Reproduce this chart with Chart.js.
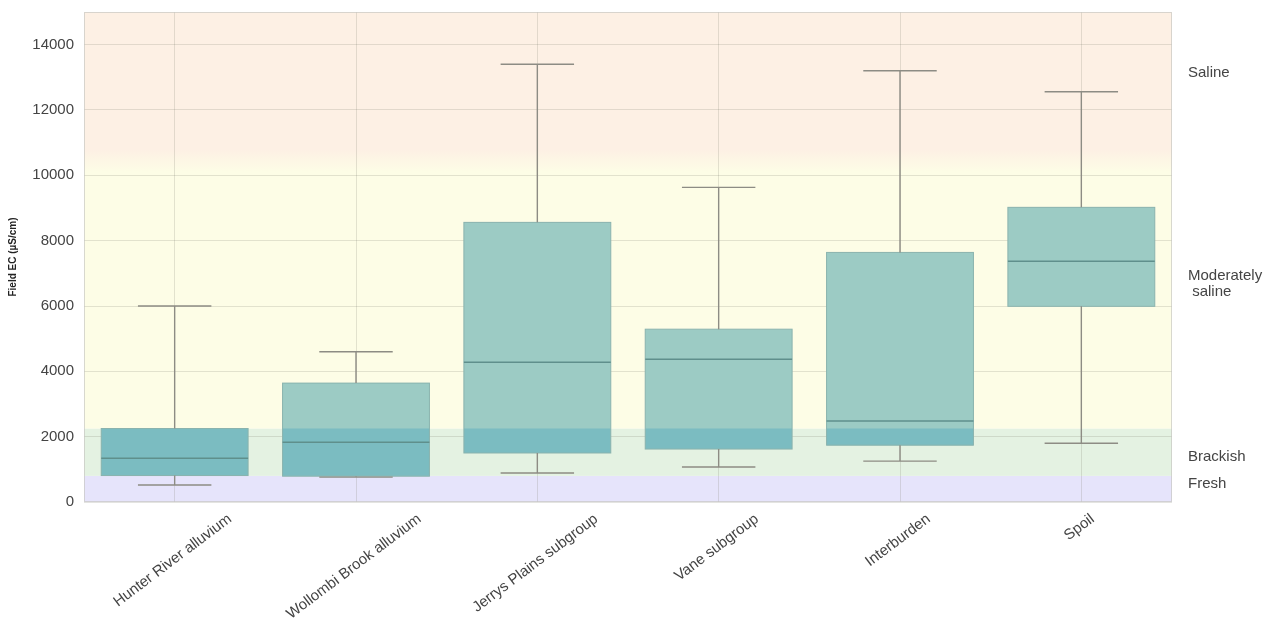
<!DOCTYPE html>
<html>
<head>
<meta charset="utf-8">
<script src="https://cdn.jsdelivr.net/npm/chart.js@4.4.0/dist/chart.umd.min.js"></script>
<style>
  body { margin: 0; background: #fff; }
  #wrap { width: 1284px; height: 628px; }
</style>
</head>
<body>
<div id="wrap"><canvas id="ecChart"></canvas></div>
<script>
// Field EC by unit
const categories = ['Hunter River alluvium', 'Wollombi Brook alluvium', 'Jerrys Plains subgroup', 'Vane subgroup', 'Interburden', 'Spoil'];
const whiskerLow = [520, 760, 890, 1070, 1250, 1800];
const q1 = [810, 790, 1500, 1620, 1740, 5990];
const median = [1340, 1830, 4280, 4370, 2480, 7370];
const q3 = [2250, 3640, 8560, 5290, 7640, 9020];
const whiskerHigh = [6000, 4600, 13400, 9630, 13200, 12560];
const yTicks = [0, 2000, 4000, 6000, 8000, 10000, 12000, 14000];

// salinity classes (limits in uS/cm)
const zoneNames = ['Fresh', 'Brackish', 'Moderately\n saline', 'Saline'];
const zoneLimits = [0, 800, 2250, 10400, 15000];
const zoneLabelAt = [550, 1380, 6670, 13150];
const zoneColors = ['#e6e4fb', '#e4f2e2', '#fdfde6', '#fdf0e4'];

const font = 'Liberation Sans, Arial, sans-serif';
Chart.defaults.font.family = font;

const salinityPlugin = {
  id: 'salinity',
  beforeDraw(chart) {
    const { ctx, chartArea: a, scales: { y } } = chart;
    ctx.save();
    for (let i = 0; i < zoneNames.length; i++) {
      const top = y.getPixelForValue(zoneLimits[i + 1]);
      const bot = y.getPixelForValue(zoneLimits[i]);
      ctx.fillStyle = zoneColors[i];
      ctx.fillRect(a.left, top, a.right - a.left, bot - top);
    }
    // soft blend between moderately saline and saline
    const g0 = y.getPixelForValue(10800), g1 = y.getPixelForValue(10100);
    const grad = ctx.createLinearGradient(0, g0, 0, g1);
    grad.addColorStop(0, zoneColors[3]);
    grad.addColorStop(1, zoneColors[2]);
    ctx.fillStyle = grad;
    ctx.fillRect(a.left, g0, a.right - a.left, g1 - g0);
    ctx.restore();
  },
  afterDatasetsDraw(chart) {
    const { ctx, scales: { y } } = chart;
    const meta = chart.getDatasetMeta(0);
    ctx.save();
    meta.data.forEach((el, i) => {
      const w = el.width, left = el.x - w / 2;
      const yq1 = y.getPixelForValue(q1[i]), yq3 = y.getPixelForValue(q3[i]);
      // darker fill where the box sits in the brackish band
      ctx.save();
      ctx.beginPath();
      ctx.rect(left, yq3, w, yq1 - yq3);
      ctx.clip();
      const bt = y.getPixelForValue(zoneLimits[2]), bb = y.getPixelForValue(zoneLimits[1]);
      ctx.fillStyle = '#7bbcc1';
      ctx.fillRect(left, bt, w, bb - bt);
      ctx.restore();
      ctx.strokeStyle = '#8ab3ae';
      ctx.lineWidth = 1;
      ctx.strokeRect(left, yq3, w, yq1 - yq3);
      // median
      const ym = y.getPixelForValue(median[i]);
      ctx.strokeStyle = '#5f8f8c';
      ctx.lineWidth = 1.6;
      ctx.beginPath();
      ctx.moveTo(left, ym); ctx.lineTo(left + w, ym);
      ctx.stroke();
      // whiskers and caps
      const yl = y.getPixelForValue(whiskerLow[i]), yh = y.getPixelForValue(whiskerHigh[i]);
      ctx.strokeStyle = '#8d8c84';
      ctx.lineWidth = 1.4;
      ctx.beginPath();
      ctx.moveTo(el.x, yq3); ctx.lineTo(el.x, yh);
      ctx.moveTo(el.x, yq1); ctx.lineTo(el.x, yl);
      ctx.moveTo(el.x - w / 4, yh); ctx.lineTo(el.x + w / 4, yh);
      ctx.moveTo(el.x - w / 4, yl); ctx.lineTo(el.x + w / 4, yl);
      ctx.stroke();
    });
    ctx.restore();
  },
  afterDraw(chart) {
    const { ctx, chartArea: a, scales: { x, y } } = chart;
    ctx.save();
    // faint frame
    ctx.strokeStyle = 'rgba(200,200,195,0.7)';
    ctx.lineWidth = 1;
    ctx.strokeRect(a.left + 0.5, a.top + 0.5, a.right - a.left - 1, a.bottom - a.top - 1);
    // zone labels on the right
    ctx.fillStyle = '#444';
    ctx.font = '15px ' + font;
    ctx.textAlign = 'left';
    ctx.textBaseline = 'middle';
    zoneNames.forEach((name, i) => {
      const lines = name.split('\n');
      const yc = y.getPixelForValue(zoneLabelAt[i]);
      lines.forEach((ln, k) => ctx.fillText(ln, a.right + 16, yc + (k - (lines.length - 1) / 2) * 16));
    });
    // rotated category labels, centred under each tick
    const ang = 37 * Math.PI / 180;
    const h = 11;
    categories.forEach((c, i) => {
      const px = x.getPixelForValue(i);
      const w = ctx.measureText(c).width;
      const bh = w * Math.sin(ang) + h * Math.cos(ang);
      ctx.save();
      ctx.translate(px - 2, a.bottom + 11 + bh / 2);
      ctx.rotate(-ang);
      ctx.textAlign = 'center';
      ctx.fillText(c, 0, 0);
      ctx.restore();
    });
    ctx.restore();
  }
};

const ctx = document.getElementById('ecChart').getContext('2d');
const ecChart = new Chart(ctx, {
  type: 'bar',
  data: {
    labels: categories,
    datasets: [{
      label: 'Field EC',
      data: categories.map((c, i) => [q1[i], q3[i]]),
      backgroundColor: '#9ccbc4',
      borderWidth: 0,
      borderSkipped: false,
      barPercentage: 0.81,
      categoryPercentage: 1
    }]
  },
  options: {
    responsive: true,
    maintainAspectRatio: false,
    animation: false,
    layout: { padding: { top: 12, right: 112, left: 0, bottom: 0 } },
    scales: {
      x: {
        grid: { offset: false, color: 'rgba(120,118,105,0.2)', drawTicks: false },
        border: { display: false },
        ticks: { display: false },
        afterFit: s => { s.height = 126; s.paddingLeft = 0; s.paddingRight = 0; }
      },
      y: {
        min: 0,
        max: 15000,
        grid: { color: 'rgba(120,118,105,0.2)', drawTicks: false },
        border: { display: false },
        ticks: { padding: 10, color: '#444', font: { size: 15 }, callback: v => String(v) },
        afterBuildTicks: s => { s.ticks = yTicks.map(v => ({ value: v })); },
        title: { display: true, text: 'Field EC (µS/cm)', color: '#222', font: { size: 10, weight: 'bold' }, padding: { top: 7, bottom: 0 } },
        afterFit: s => { s.width = 84; s.paddingTop = 0; s.paddingBottom = 0; }
      }
    },
    plugins: {
      legend: { display: false },
      tooltip: { enabled: false }
    }
  },
  plugins: [salinityPlugin]
});
</script>
</body>
</html>
